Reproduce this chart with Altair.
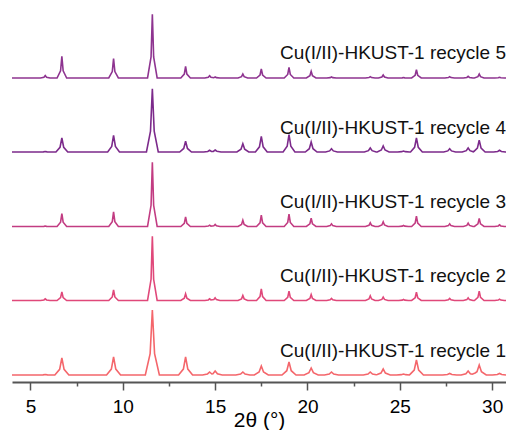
import altair as alt
import pandas as pd

# Peak positions (2-theta, degrees) shared by all patterns
positions = [5.8, 6.7, 9.5, 11.6, 13.4, 14.7, 15.0, 16.5, 17.5, 19.0,
             20.2, 21.3, 23.4, 24.1, 25.2, 25.9, 27.7, 28.7, 29.3, 30.4]

series = ["Cu(I/II)-HKUST-1 recycle 1", "Cu(I/II)-HKUST-1 recycle 2",
          "Cu(I/II)-HKUST-1 recycle 3", "Cu(I/II)-HKUST-1 recycle 4",
          "Cu(I/II)-HKUST-1 recycle 5"]

# Peak heights (arbitrary units), one list per pattern
heights_r1 = [0.5, 17, 18, 65, 18, 3, 4, 3, 9, 13, 7, 3, 3, 6, 1, 15, 1.5, 4, 10, 1.5]
heights_r2 = [1.7, 8.7, 10.7, 64.3, 6.7, 1.7, 2.7, 5, 11.7, 9.3, 6, 2, 4.7, 3.3, 1, 8.3, 2, 2.7, 9.3, 1.3]
heights_r3 = [0.5, 13, 14.7, 64.3, 9.7, 1.3, 2, 6.3, 11.3, 12.3, 8.3, 2.7, 3.7, 4.7, 1, 10.3, 2.7, 3.3, 8, 1.7]
heights_r4 = [0.5, 14, 16.7, 63.3, 10.7, 1.7, 2, 8.3, 15.7, 17.3, 10, 3.3, 4, 6, 1, 14, 3.3, 4, 11.7, 1.7]
heights_r5 = [2.5, 21.7, 19.3, 63.7, 11.7, 2.3, 1, 4, 9, 10.7, 6.7, 1, 1.3, 3, 0.5, 8.3, 1.3, 1.7, 4, 0.7]
heights = [heights_r1, heights_r2, heights_r3, heights_r4, heights_r5]

# Peak tip half width and base half width (degrees) per pattern
tip_widths = [0.12, 0.07, 0.07, 0.1, 0.07]
base_widths = [0.38, 0.26, 0.26, 0.32, 0.26]
shoulder = 0.33  # fraction of peak height at the tip half width

# Vertical stacking offsets per pattern and label heights above baseline
offsets = [7, 81.5, 155.5, 230, 304]
label_offsets = [18.5, 18.5, 18.5, 18.5, 19.5]

colors = ["#F4666B", "#E0487A", "#C23C82", "#7C2A8B", "#8E3490"]

x_min, x_max = 4.0, 30.75


def peak_value(dx, h, w1, w2):
    a = abs(dx)
    if a >= w2:
        return 0.0
    if a <= w1:
        return h * (1 - (1 - shoulder) * a / w1)
    return h * shoulder * (w2 - a) / (w2 - w1)


rows = []
for name, hs, w1, w2, off in zip(series, heights, tip_widths, base_widths, offsets):
    xs = {x_min, x_max}
    for p in positions:
        for d in (-w2, -w1, 0.0, w1, w2):
            v = round(p + d, 4)
            if x_min <= v <= x_max:
                xs.add(v)
    for x in sorted(xs):
        top = 0.0
        for p, h in zip(positions, hs):
            top = max(top, peak_value(x - p, h, w1, w2))
        rows.append({"x": x, "y": off + top, "series": name})

lines_df = pd.DataFrame(rows)
labels_df = pd.DataFrame({
    "series": series,
    "x": [x_max] * len(series),
    "y": [o + l for o, l in zip(offsets, label_offsets)],
})

font = "Liberation Sans"

x_axis = alt.Axis(
    values=[5, 7.5, 10, 12.5, 15, 17.5, 20, 22.5, 25, 27.5, 30],
    labelExpr="datum.value % 5 === 0 ? datum.label : ''",
    tickSize={"expr": "datum.value % 5 === 0 ? 8 : 4"},
    title="2θ (°)",
    grid=False,
    labelOverlap=False,
    labelFlush=False,
    labelFontSize=19,
    labelFont=font,
    labelColor="#000000",
    labelBaseline="alphabetic",
    labelPadding=22,
    titleFontSize=21,
    titleFont=font,
    titleFontWeight="normal",
    titleColor="#000000",
    titleBaseline="alphabetic",
    titleY=44,
    domainColor="#555555",
    domainWidth=2,
    tickColor="#555555",
    tickWidth=1.5,
)

xs_scale = alt.Scale(domain=[x_min, x_max], nice=False, zero=False)
ys_scale = alt.Scale(domain=[0, 374], nice=False, zero=False)

lines = alt.Chart(lines_df).mark_line(strokeWidth=1.6).encode(
    x=alt.X("x:Q", scale=xs_scale, axis=x_axis),
    y=alt.Y("y:Q", scale=ys_scale, axis=None),
    color=alt.Color("series:N", scale=alt.Scale(domain=series, range=colors), legend=None),
    order="x:Q",
)

labels = alt.Chart(labels_df).mark_text(
    align="right", baseline="alphabetic", fontSize=19, font=font, color="#111111"
).encode(
    x=alt.X("x:Q", scale=xs_scale),
    y=alt.Y("y:Q", scale=ys_scale),
    text="series:N",
)

chart = alt.layer(lines, labels).properties(
    width=494, height=374,
    autosize=alt.AutoSizeParams(type="none"),
    padding={"left": 4, "top": 0, "right": 0, "bottom": 48},
).configure_view(stroke=None)

chart.save("out.html", embed_options={"renderer": "svg", "actions": False})
